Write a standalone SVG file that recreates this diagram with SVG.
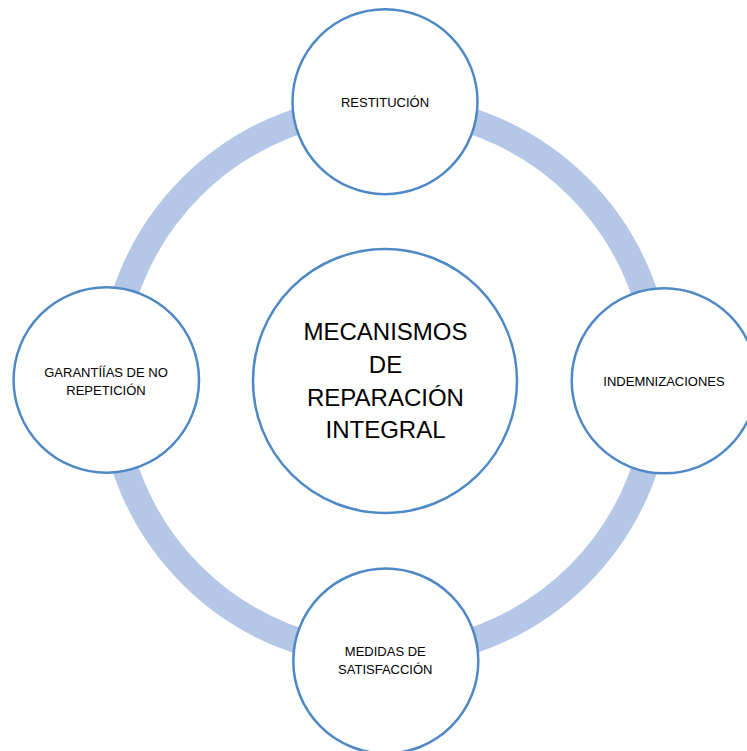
<svg xmlns="http://www.w3.org/2000/svg" width="747" height="751" viewBox="0 0 747 751">
<style>
.node{fill:#FFFFFF;stroke:#4F88C6;stroke-width:2.5}
.ring{fill:none;stroke:#B4C7E7;stroke-width:26}
.lbl{font-family:"Liberation Sans",Arial,sans-serif;font-size:13px;fill:#000000;text-anchor:middle}
.big{font-family:"Liberation Sans",Arial,sans-serif;font-size:24px;fill:#000000;text-anchor:middle}
</style>
<rect width="747" height="751" fill="#FFFFFF"/>
<g id="connectors">
<circle class="ring" cx="385" cy="381" r="274"/>
</g>
<g id="center">
<circle class="node" cx="385" cy="381" r="132"/>
<text class="big" x="385.5" y="340">MECANISMOS</text>
<text class="big" x="385.5" y="373">DE</text>
<text class="big" x="385.5" y="405.5">REPARACIÓN</text>
<text class="big" x="385.5" y="437.5">INTEGRAL</text>
</g>
<g id="restitucion">
<circle class="node" cx="385" cy="101.7" r="92.5"/>
<text class="lbl" x="385" y="107">RESTITUCIÓN</text>
</g>
<g id="indemnizaciones">
<circle class="node" cx="664.2" cy="380.8" r="92.5"/>
<text class="lbl" x="664" y="386">INDEMNIZACIONES</text>
</g>
<g id="medidas">
<circle class="node" cx="385.8" cy="661" r="92.5"/>
<text class="lbl" x="385.3" y="656">MEDIDAS DE</text>
<text class="lbl" x="385.3" y="674">SATISFACCIÓN</text>
</g>
<g id="garantias">
<circle class="node" cx="106.3" cy="380" r="92.7"/>
<text class="lbl" x="106" y="376.5">GARANTÍÍAS DE NO</text>
<text class="lbl" x="106" y="394.5">REPETICIÓN</text>
</g>
</svg>
